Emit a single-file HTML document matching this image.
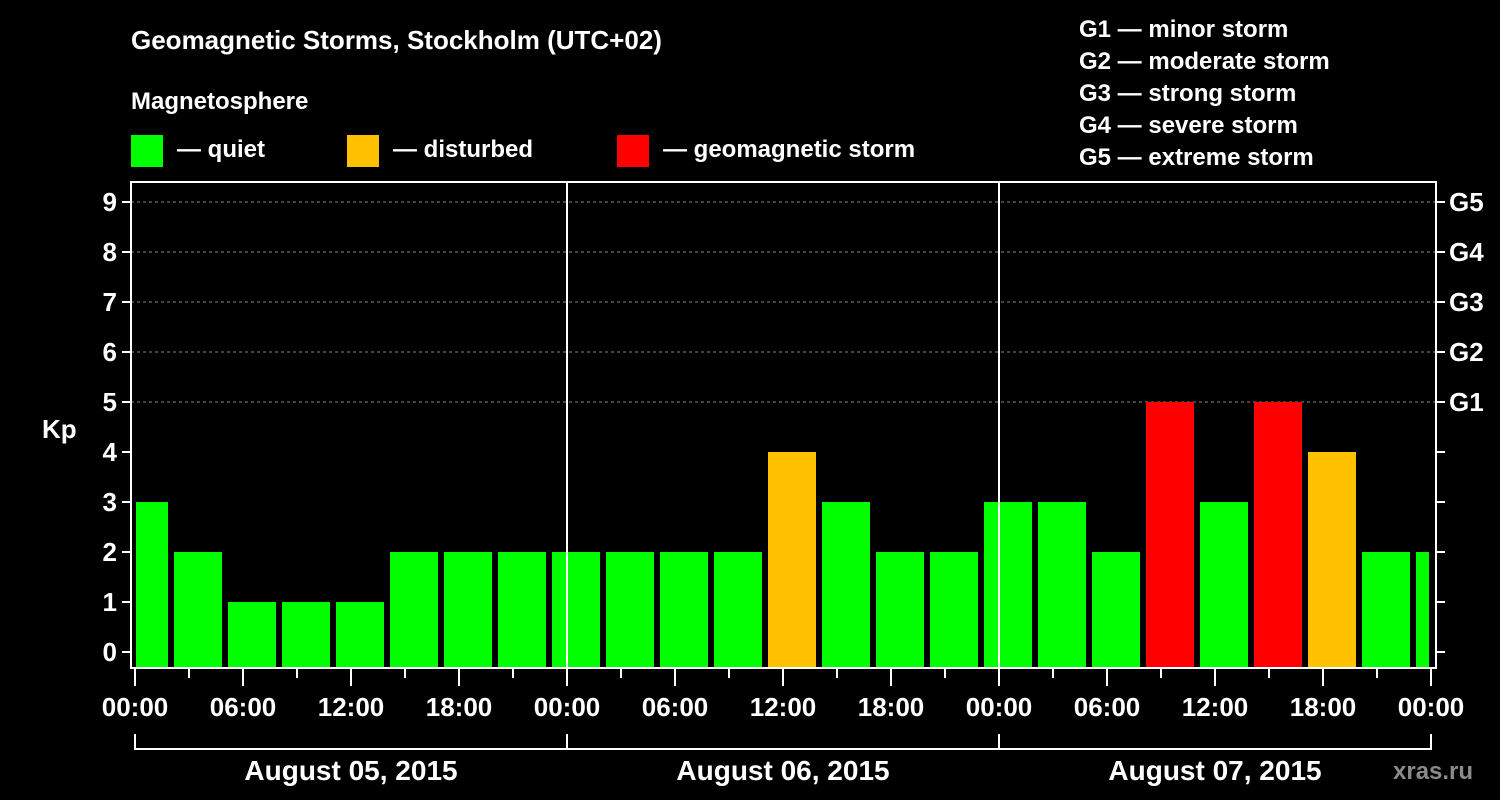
<!DOCTYPE html>
<html><head><meta charset="utf-8"><style>
html,body{margin:0;padding:0;background:#000;width:1500px;height:800px;overflow:hidden}
svg text{font-family:"Liberation Sans",Arial,sans-serif;font-weight:bold;fill:#fff}
</style></head><body>
<svg id="chart" width="1500" height="800" xmlns="http://www.w3.org/2000/svg">
<text x="131" y="49" font-size="26">Geomagnetic Storms, Stockholm (UTC+02)</text>
<text x="131" y="109" font-size="24">Magnetosphere</text>
<g>
<rect x="131" y="135" width="32" height="32" fill="#00ff00"/>
<text x="177" y="157" font-size="24">— quiet</text>
<rect x="347" y="135" width="32" height="32" fill="#ffc000"/>
<text x="393" y="157" font-size="24">— disturbed</text>
<rect x="617" y="135" width="32" height="32" fill="#ff0000"/>
<text x="663" y="157" font-size="24">— geomagnetic storm</text>
</g>
<g font-size="24">
<text x="1079" y="37">G1 — minor storm</text>
<text x="1079" y="69">G2 — moderate storm</text>
<text x="1079" y="101">G3 — strong storm</text>
<text x="1079" y="133">G4 — severe storm</text>
<text x="1079" y="165">G5 — extreme storm</text>
</g>
<text x="42" y="438" font-size="26">Kp</text>
<text x="1393" y="779" font-size="24" fill="#888" style="fill:#8a8a8a">xras.ru</text>
<g id="plot"></g>
</svg>
<script>
const kpValues=[3,2,1,1,1,2,2,2,2,2,2,2,4,3,2,2,3,3,2,5,3,5,4,2,2];
const dayLabels=["August 05, 2015","August 06, 2015","August 07, 2015"];
const hourLabels=["00:00","06:00","12:00","18:00"];
const gLabels=["G1","G2","G3","G4","G5"];
const NS="http://www.w3.org/2000/svg";
const plot=document.getElementById('plot');
const L=131,R=1436,T=182,B=668,X0=135,DAY=432;
const xh=h=>X0+h*DAY/24;
const yk=v=>652-v*50;
function mk(tag,attrs,parent){const e=document.createElementNS(NS,tag);for(const k in attrs)e.setAttribute(k,attrs[k]);(parent||plot).appendChild(e);return e;}
// grid
for(let v=6;v<=9;v++){const g=mk('line',{x1:L,x2:R,y1:yk(v),y2:yk(v),stroke:'#888','stroke-dasharray':'3,3','stroke-width':1});

}
{const g=mk('line',{x1:L,x2:R,y1:yk(5),y2:yk(5),stroke:'#888','stroke-dasharray':'3,3'});

}
// bars
kpValues.forEach((v,i)=>{
 let x1=xh(3*i)-15,x2=x1+48;x1=Math.max(x1,L+5);x2=Math.min(x2,xh(72)-2);
 const c=v>=5?'#ff0000':(v>=4?'#ffc000':'#00ff00');
 const b=mk('rect',{x:x1,y:yk(v),width:x2-x1,height:B-yk(v),fill:c});
 
 
});
// day separators
for(let d=1;d<3;d++){const l=mk('line',{x1:xh(24*d),x2:xh(24*d),y1:T,y2:B,stroke:'#fff','stroke-width':2});

}
// frame
{const f=mk('rect',{x:L,y:T,width:R-L,height:B-T,fill:'none',stroke:'#fff','stroke-width':2});

}
// y ticks
for(let v=0;v<=9;v++){
 const t=mk('line',{x1:L-9,x2:L,y1:yk(v),y2:yk(v),stroke:'#fff','stroke-width':2});
 
 
 const t2=mk('line',{x1:R,x2:R+9,y1:yk(v),y2:yk(v),stroke:'#fff','stroke-width':2});
 
 
 const lb=mk('text',{x:L-14,y:yk(v)+9,'font-size':26,'text-anchor':'end'});lb.textContent=v;
 
 
}
gLabels.forEach((g,i)=>{const lb=mk('text',{x:1449,y:yk(5+i)+9,'font-size':26});lb.textContent=g;
 
 });
// x ticks
for(let h=0;h<=72;h+=3){
 const major=h%6===0;
 const t=mk('line',{x1:xh(h),x2:xh(h),y1:B,y2:major?686:678,stroke:'#fff','stroke-width':2});
 
 
 if(major){const lb=mk('text',{x:xh(h),y:716,'font-size':26,'text-anchor':'middle'});lb.textContent=hourLabels[(h/6)%4];
 
 }
}
// day brackets
{const p=mk('path',{d:`M${xh(0)},734 V749 H${xh(72)} V734 M${xh(24)},734 V749 M${xh(48)},734 V749`,stroke:'#fff','stroke-width':2,fill:'none'});

}
dayLabels.forEach((d,i)=>{const lb=mk('text',{x:xh(24*i+12),y:780,'font-size':28,'text-anchor':'middle'});lb.textContent=d;
 
 });
</script>
</body></html>
